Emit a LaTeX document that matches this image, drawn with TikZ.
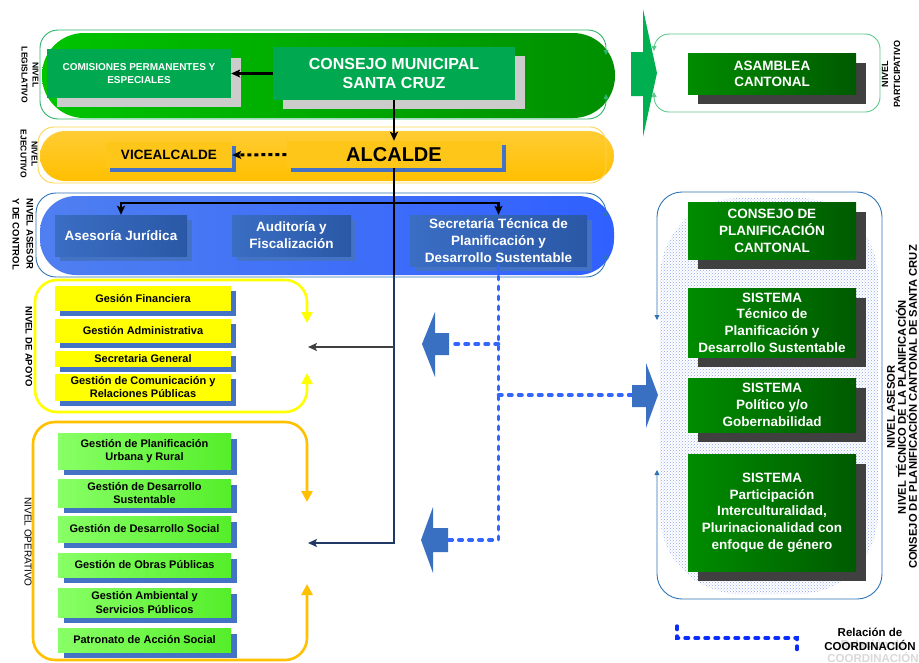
\documentclass[tikz,border=0pt]{standalone}
\usepackage{fontspec}
\setmainfont{Liberation Sans}
\usetikzlibrary{arrows.meta,shadows,patterns}
\newcommand\myfs[2]{\fontsize{#1pt}{#2pt}\selectfont}
\definecolor{gbandA}{HTML}{00C400}
\definecolor{gbandB}{HTML}{008F00}
\definecolor{gboxc}{HTML}{00A850}
\definecolor{gshad}{HTML}{CCCCCC}
\definecolor{ybandA}{HTML}{FFCC33}
\definecolor{ybandB}{HTML}{FFBF00}
\definecolor{yboxc}{HTML}{FFC61A}
\definecolor{bbandA}{HTML}{4F7FF0}
\definecolor{bbandB}{HTML}{3060FF}
\definecolor{bboxA}{HTML}{3A6EC4}
\definecolor{bboxB}{HTML}{2A58A6}
\definecolor{bshad}{HTML}{4472C4}
\definecolor{yapoc}{HTML}{FFFF00}
\definecolor{lgA}{HTML}{88FF66}
\definecolor{lgB}{HTML}{55EE2A}
\definecolor{dgA}{HTML}{008C00}
\definecolor{dgB}{HTML}{005A00}
\definecolor{dshad}{HTML}{404040}
\definecolor{chevc}{HTML}{00B050}
\definecolor{partl}{HTML}{5CC88A}
\definecolor{rboxc}{HTML}{2E75B6}
\definecolor{dotc}{HTML}{8EA6EC}
\definecolor{barrow}{HTML}{3A70C2}
\definecolor{dotl}{HTML}{3366FF}
\definecolor{legc}{HTML}{0A2CFF}
\definecolor{navyl}{HTML}{1F3864}
\definecolor{grayl}{HTML}{404040}
\definecolor{orangeo}{HTML}{FFC000}
\definecolor{gout}{HTML}{2DB36A}
\definecolor{yout}{HTML}{FFD54F}
\definecolor{bout}{HTML}{2E75B6}
\tikzset{
  blktip/.tip={Stealth[length=9pt,width=8pt,inset=2pt]},
  smalltip/.tip={Triangle[length=5pt,width=5pt]},
  bigtip/.tip={Triangle[length=11pt,width=11pt]},
  basebox/.style={inner sep=0pt, align=center, font=\bfseries},
  gmun/.style={basebox, fill=gboxc, text=white, drop shadow={shadow xshift=10pt, shadow yshift=-9pt, fill=gshad, opacity=1}},
  yexec/.style={basebox, fill=yboxc, text=black, drop shadow={shadow xshift=4pt, shadow yshift=-4pt, fill=bshad, opacity=1}},
  bctl/.style={basebox, left color=bboxA, right color=bboxB, text=white, font=\bfseries\myfs{13.5}{17}, drop shadow={shadow xshift=5pt, shadow yshift=-5pt, fill=bshad, opacity=1}},
  yapo/.style={basebox, fill=yapoc, font=\bfseries\myfs{11}{13}, minimum width=176pt, drop shadow={shadow xshift=5pt, shadow yshift=-5pt, fill=bshad, opacity=1}},
  gope/.style={basebox, left color=lgA, right color=lgB, font=\bfseries\myfs{11}{13.3}, minimum width=173pt, drop shadow={shadow xshift=6pt, shadow yshift=-6pt, fill=bshad, opacity=1}},
  dgr/.style={basebox, left color=dgA, right color=dgB, text=white, font=\bfseries\myfs{13.5}{16.7}, minimum width=168pt, drop shadow={shadow xshift=10pt, shadow yshift=-10pt, fill=dshad, opacity=1}},
  lbl/.style={inner sep=0pt, align=center},
  blkline/.style={line width=2.5pt, black},
  navline/.style={line width=2.5pt, navyl},
  dotline/.style={line width=3.5pt, dotl, dash pattern=on 3.5pt off 6.5pt, line cap=round},
  legline/.style={line width=3.5pt, legc, dash pattern=on 3.5pt off 6.5pt, line cap=round},
  thinout/.style={line width=0.9pt, smalltip-smalltip},
  thickout/.style={line width=2.6pt, bigtip-bigtip, rounded corners=22pt},
}
\begin{document}
\begin{tikzpicture}[x=1pt,y=-1pt]
\fill[white] (0,0) rectangle (919,662);
\useasboundingbox (0,0) rectangle (919,662);

% ---- bands
\shade[left color=gbandA, right color=gbandB, rounded corners=42pt] (42,33) rectangle (615,118);
\shade[top color=ybandA, bottom color=ybandB, rounded corners=25pt] (40,131) rectangle (614,181);
\shade[left color=bbandA, right color=bbandB, rounded corners=36pt] (40,196) rectangle (614,275);

% ---- band outlines
\draw[gout, thinout, rounded corners=18pt] (606,55) -- (606,30) -- (40,30) -- (40,119) -- (606,119) -- (606,94);
\draw[yout, line width=0.9pt, rounded corners=16pt] (38,127) rectangle (606,183);
\draw[bout, thinout, rounded corners=20pt] (606,211) -- (606,193) -- (36,193) -- (36,277) -- (606,277) -- (606,254);

% ---- participative level
\fill[chevc] (631,52) -- (643,52) -- (643,9) -- (657,73) -- (643,137) -- (643,96) -- (631,96) -- cycle;
\draw[partl, thinout, rounded corners=15pt] (654,51) -- (654,34) -- (880,34) -- (880,112) -- (654,112) -- (654,92);

% ---- right planning level
\fill[pattern=crosshatch dots, pattern color=dotc, rounded corners=80pt] (660,198) rectangle (878,594);
\draw[rboxc, thinout, rounded corners=25pt] (657,320) -- (657,192) -- (882,192) -- (882,599) -- (657,599) -- (657,470);

% ---- apoyo / operativo outlines
\draw[yapoc, thickout] (307,323) -- (307,280) -- (35,280) -- (35,412) -- (307,412) -- (307,373);
\draw[orangeo, thickout] (307,502) -- (307,422) -- (33,422) -- (33,660) -- (307,660) -- (307,584);

% ---- legislative / executive nodes
\node[gmun, font=\bfseries\myfs{10}{13}, minimum width=184pt, minimum height=49pt] (comis) at (139,73.5) {COMISIONES PERMANENTES Y\\ESPECIALES};
\node[gmun, font=\bfseries\myfs{16}{19}, minimum width=242pt, minimum height=53pt] (consejo) at (394,73.5) {CONSEJO MUNICIPAL\\SANTA CRUZ};
\node[yexec, font=\bfseries\myfs{13.5}{16}, minimum width=126pt, minimum height=26pt] (vice) at (169,155) {VICEALCALDE};
\node[yexec, font=\bfseries\myfs{20}{22}, minimum width=215pt, minimum height=27pt] (alcalde) at (394,154.5) {ALCALDE};

% ---- asesor y control
\node[bctl, minimum width=132pt, minimum height=41pt] (aseso) at (121,235.5) {Asesoría Jurídica};
\node[bctl, minimum width=119pt, minimum height=41pt] (audit) at (291.5,235.5) {Auditoría y\\Fiscalización};
\node[bctl, minimum width=177pt, minimum height=51pt] (secre) at (498.5,240.5) {Secretaría Técnica de\\Planificación y\\Desarrollo Sustentable};

% ---- apoyo
\node[yapo, minimum height=25pt] (fin) at (143,298.5) {Gesión Financiera};
\node[yapo, minimum height=24pt] (adm) at (143,331) {Gestión Administrativa};
\node[yapo, minimum height=16pt] (sgen) at (143,359) {Secretaria General};
\node[yapo, minimum height=27pt] (comu) at (143,387.5) {Gestión de Comunicación y\\Relaciones Públicas};

% ---- operativo
\node[gope, minimum height=36pt] (plan) at (144.5,451) {Gestión de Planificación\\Urbana y Rural};
\node[gope, minimum height=28pt] (dsus) at (144.5,493) {Gestión de Desarrollo\\Sustentable};
\node[gope, minimum height=26pt] (dsoc) at (144.5,529) {Gestión de Desarrollo Social};
\node[gope, minimum height=24pt] (obras) at (144.5,565) {Gestión de Obras Públicas};
\node[gope, minimum height=29pt] (amb) at (144.5,602.5) {Gestión Ambiental y\\Servicios Públicos};
\node[gope, minimum height=24pt] (patr) at (144.5,640) {Patronato de Acción Social};

% ---- right column
\node[dgr, font=\bfseries\myfs{13.5}{16}, minimum height=41pt] (asam) at (772,73.5) {ASAMBLEA\\CANTONAL};
\node[dgr, font=\bfseries\myfs{13.5}{17}, minimum height=57pt] (cpc) at (772,230.5) {CONSEJO DE\\PLANIFICACIÓN\\CANTONAL};
\node[dgr, minimum height=69pt] (stec) at (772,322.5) {SISTEMA\\Técnico de\\Planificación y\\Desarrollo Sustentable};
\node[dgr, minimum height=54pt] (spol) at (772,405) {SISTEMA\\Político y/o\\Gobernabilidad};
\node[dgr, minimum height=117pt] (spar) at (772,512.5) {SISTEMA\\Participación\\Interculturalidad,\\Plurinacionalidad con\\enfoque de género};

% ---- coordinates
\coordinate (hL) at (121,203);
\coordinate (hR) at (498.5,203);
\coordinate (tA) at (394,275);
\coordinate (tB) at (394,347);
\coordinate (tC) at (394,543);
\coordinate (apoIn) at (308,347);
\coordinate (opeIn) at (308,543);
\coordinate (dA) at (498.5,344);
\coordinate (dB) at (498.5,540);
\coordinate (dC) at (498.5,395);
\coordinate (baA) at (449,344);
\coordinate (baB) at (448,540);
\coordinate (baC) at (632,395);
\coordinate (legA) at (677,626);
\coordinate (legB) at (677,638);
\coordinate (legC) at (797,638);
\coordinate (legD) at (797,651);

% ---- connectors
\draw[blkline, -blktip] (consejo.west) -- (comis.east);
\draw[blkline, -blktip] (consejo.south) -- (consejo.south |- alcalde.north);
\draw[line width=3pt, black, dash pattern=on 4pt off 3pt, -blktip] (alcalde.west) -- (vice.east);
\draw[blkline] (alcalde.south) -- (tA);
\draw[navline, -blktip] (tA) -- (tC) -- (opeIn);
\draw[line width=2.5pt, grayl, -blktip] (tB) -- (apoIn);
\draw[blkline, blktip-blktip] (hL |- aseso.north) -- (hL) -- (hR) -- (hR |- secre.north);
\draw[dotline] (secre.south) -- (dB) -- (baB);
\draw[dotline] (dA) -- (baA);
\draw[dotline] (dC) -- (baC);

% ---- block arrows
\fill[barrow] (449,333) -- (435,333) -- (435,312) -- (422,344) -- (435,377) -- (435,355) -- (449,355) -- cycle;
\fill[barrow] (448,528) -- (433,528) -- (433,507) -- (421,540) -- (433,573) -- (433,552) -- (448,552) -- cycle;
\fill[barrow] (632,385) -- (646,385) -- (646,363) -- (658,395) -- (646,428) -- (646,407) -- (632,407) -- cycle;

% ---- level labels
\node[lbl, rotate=-90, font=\bfseries\myfs{8.5}{11}] (lblLeg) at (30,75) {NIVEL\\LEGISLATIVO};
\node[lbl, rotate=-90, font=\bfseries\myfs{8.5}{11}] (lblEje) at (29,154) {NIVEL\\EJECUTIVO};
\node[lbl, rotate=-90, font=\bfseries\myfs{9.5}{14}] (lblAse) at (23,234) {NIVEL ASESOR\\Y DE CONTROL};
\node[lbl, rotate=-90, font=\bfseries\myfs{9.5}{11}] (lblApo) at (29,347) {NIVEL DE APOYO};
\node[lbl, rotate=-90, font=\myfs{10}{11}] (lblOpe) at (28,542) {NIVEL OPERATIVO};
\node[lbl, rotate=90, font=\bfseries\myfs{9}{12}] (lblPar) at (891,74) {NIVEL\\PARTICIPATIVO};
\node[lbl, rotate=90, font=\bfseries\myfs{11.2}{11}] (lblPla) at (902,407) {NIVEL ASESOR\\NIVEL TÉCNICO DE LA PLANIFICACIÓN\\CONSEJO DE PLANIFICACIÓN CANTONAL DE SANTA CRUZ};

% ---- legend
\draw[legline] (legA) -- (legB) -- (legC) -- (legD);
\node[lbl, font=\bfseries\myfs{11.5}{14}, text=gray!30] (legGhost) at (873,651) {Relación de\\COORDINACIÓN};
\node[lbl, font=\bfseries\myfs{11.5}{14}] (legTxt) at (870,639) {Relación de\\COORDINACIÓN};
\end{tikzpicture}
\end{document}
